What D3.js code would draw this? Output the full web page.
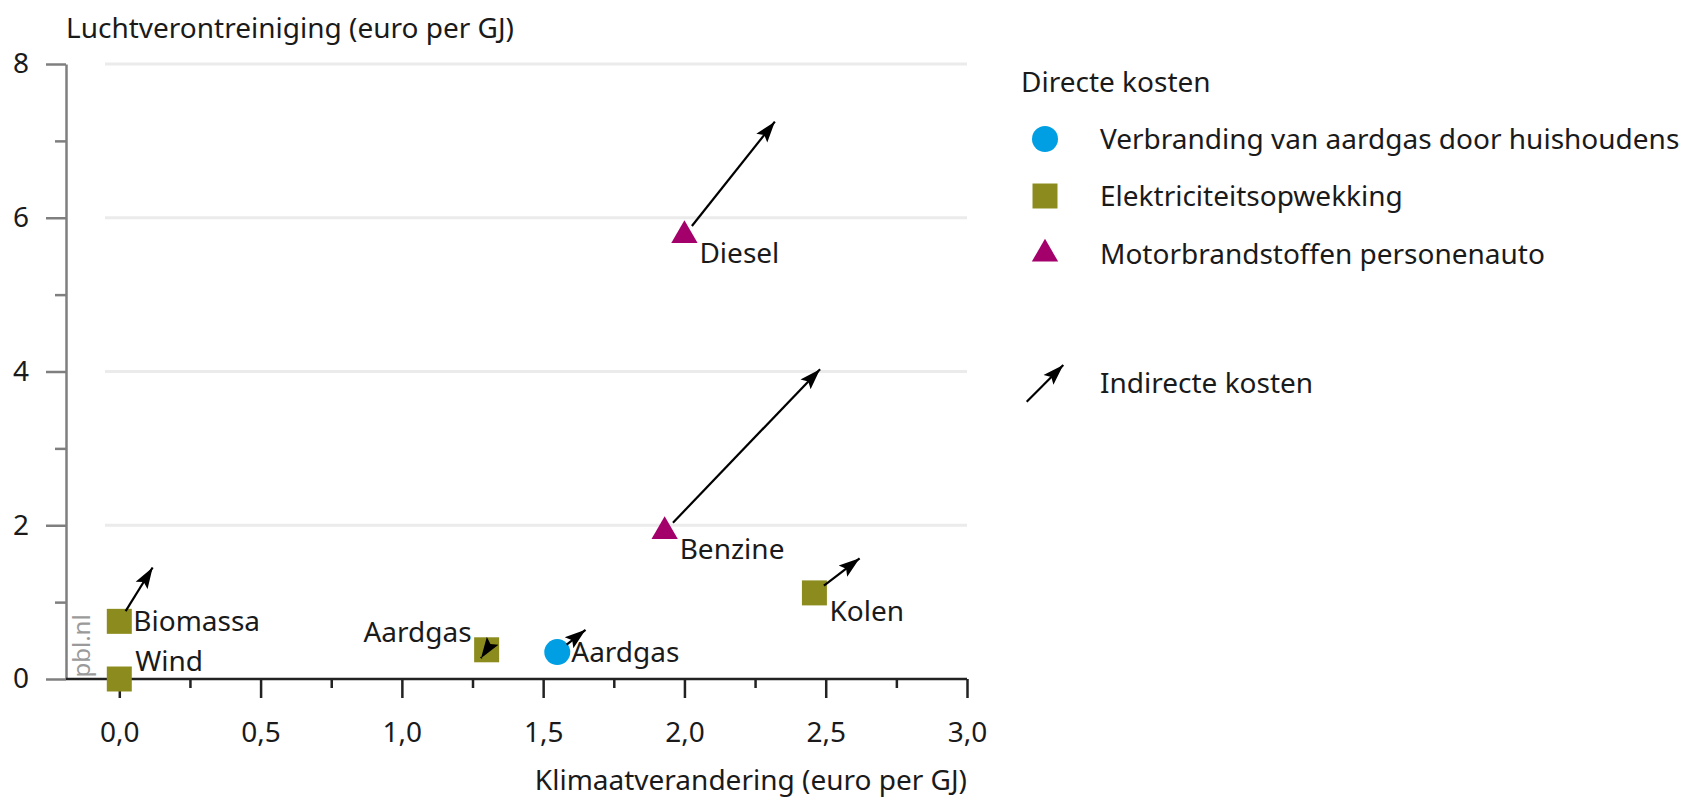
<!DOCTYPE html>
<html>
<head>
<meta charset="utf-8">
<script src="https://cdnjs.cloudflare.com/ajax/libs/d3/7.8.5/d3.min.js"></script>
<style>
  body { margin: 0; background: #fff; }
  text { font-family: "Noto Sans", "Open Sans", sans-serif; fill: #1a1a1a; }
</style>
</head>
<body>
<div class="chart"></div>
<script>
// data (euro per GJ)
var bronnen = ["Wind", "Biomassa", "Aardgas", "Kolen", "Aardgas", "Benzine", "Diesel"];
var groep = [1, 1, 1, 1, 0, 2, 2];
var directX = [0, 0, 1.30, 2.46, 1.55, 1.93, 2.00];
var directY = [0, 0.75, 0.38, 1.12, 0.35, 1.92, 5.77];
var totaalX = [0, 0.118, 1.28, 2.62, 1.65, 2.48, 2.32];
var totaalY = [0, 1.45, 0.27, 1.57, 0.64, 4.03, 7.25];
var labelPlek = ["boven", "rechts", "linksboven", "rechtsonder", "rechts", "rechtsonder", "rechtsonder"];

var legendaNamen = ["Verbranding van aardgas door huishoudens", "Elektriciteitsopwekking", "Motorbrandstoffen personenauto"];
var kleuren = ["#009fe3", "#8c8c1e", "#a3006b"];
var vormen = [d3.symbolCircle, d3.symbolSquare, d3.symbolTriangle];
var vormMaat = [531, 625, 300];

var xTicks = [0, 0.5, 1, 1.5, 2, 2.5, 3];
var xMinor = [0.25, 0.75, 1.25, 1.75, 2.25, 2.75];
var yTicks = [0, 2, 4, 6, 8];
var yMinor = [1, 3, 5, 7];

loadChart();

function loadChart() {
    var svg = d3.select(".chart")
        .append("svg")
        .attr("width", 1698)
        .attr("height", 797);

    var xScale = d3.scaleLinear().domain([0, 3]).range([119.3, 967]);
    var yScale = d3.scaleLinear().domain([0, 8]).range([679, 64]);
    var yAxisX = 66;

    var nl = d3.formatLocale({decimal: ",", thousands: ".", grouping: [3], currency: ["€", ""]});

    var defs = svg.append("defs");
    defs.append("marker")
        .attr("id", "pijl")
        .attr("markerUnits", "userSpaceOnUse")
        .attr("viewBox", "0 -8 21 16")
        .attr("markerWidth", 21)
        .attr("markerHeight", 16)
        .attr("refX", 21)
        .attr("refY", 0)
        .attr("orient", "auto")
        .append("path")
        .attr("d", "M0,-7L21,0L0,7L4,0Z")
        .attr("fill", "#000");

    // gridlines
    svg.append("g").selectAll("line")
        .data(yTicks.filter(d => d > 0))
        .enter().append("line")
        .attr("x1", 105).attr("x2", xScale(3))
        .attr("y1", d => yScale(d)).attr("y2", d => yScale(d))
        .attr("stroke", "#ebebeb")
        .attr("stroke-width", 3);

    // y axis
    var yAxis = svg.append("g")
        .attr("transform", `translate(${yAxisX},0)`)
        .call(d3.axisLeft(yScale).tickValues(yTicks).tickSize(20).tickPadding(17).tickSizeOuter(0));
    svg.append("g")
        .attr("transform", `translate(${yAxisX},0)`)
        .call(d3.axisLeft(yScale).tickValues(yMinor).tickSize(11).tickFormat(""))
        .select(".domain").remove();
    svg.selectAll("g").filter(function () { return this.parentNode === svg.node(); })
        .selectAll(".tick line, .domain")
        .attr("stroke", "#7f7f7f")
        .attr("stroke-width", 2.5);
    yAxis.selectAll(".tick text")
        .attr("font-size", "28px")
        .attr("font-family", "Noto Sans");

    // x axis
    var xAxis = svg.append("g")
        .attr("transform", `translate(0,${yScale(0)})`)
        .call(d3.axisBottom(xScale).tickValues(xTicks).tickSize(19).tickPadding(24).tickSizeOuter(0)
            .tickFormat(nl.format(".1f")));
    var xMinorAxis = svg.append("g")
        .attr("transform", `translate(0,${yScale(0)})`)
        .call(d3.axisBottom(xScale).tickValues(xMinor).tickSize(9).tickFormat(""));
    xAxis.select(".domain").remove();
    xMinorAxis.select(".domain").remove();
    xAxis.selectAll(".tick line").attr("stroke", "#222").attr("stroke-width", 2.5);
    xMinorAxis.selectAll(".tick line").attr("stroke", "#222").attr("stroke-width", 2.5);
    xAxis.selectAll(".tick text")
        .attr("font-size", "28px")
        .attr("font-family", "Noto Sans");
    svg.append("line")
        .attr("x1", yAxisX).attr("x2", xScale(3))
        .attr("y1", yScale(0)).attr("y2", yScale(0))
        .attr("stroke", "#222")
        .attr("stroke-width", 2.5);

    // axis titles
    svg.append("text")
        .attr("x", yAxisX)
        .attr("y", 28)
        .attr("dy", "0.35em")
        .attr("font-size", "28px")
        .text("Luchtverontreiniging (euro per GJ)");

    svg.append("text")
        .attr("x", xScale(3))
        .attr("y", 780)
        .attr("dy", "0.35em")
        .attr("text-anchor", "end")
        .attr("font-size", "28px")
        .text("Klimaatverandering (euro per GJ)");

    svg.append("text")
        .attr("transform", "translate(82,646) rotate(-90)")
        .attr("dy", "0.35em")
        .attr("text-anchor", "middle")
        .attr("font-size", "24px")
        .style("fill", "#9a9a9a")
        .text("pbl.nl");

    var punten = bronnen.map(function (naam, i) {
        return {naam: naam, groep: groep[i], x: directX[i], y: directY[i], tx: totaalX[i], ty: totaalY[i], plek: labelPlek[i]};
    });

    // direct cost markers
    svg.append("g").selectAll("path")
        .data(punten)
        .enter().append("path")
        .attr("transform", d => `translate(${xScale(d.x)},${yScale(d.y)})`)
        .attr("d", d => d3.symbol().type(vormen[d.groep]).size(vormMaat[d.groep])())
        .attr("fill", d => kleuren[d.groep]);

    // indirect cost arrows
    svg.append("g").selectAll("line")
        .data(punten.filter(d => d.tx !== d.x || d.ty !== d.y))
        .enter().append("line")
        .each(function (d) {
            var x0 = xScale(d.x), y0 = yScale(d.y), x1 = xScale(d.tx), y1 = yScale(d.ty);
            var len = Math.hypot(x1 - x0, y1 - y0);
            var off = Math.min(12, len - 1);
            d3.select(this)
                .attr("x1", x0 + (x1 - x0) / len * off)
                .attr("y1", y0 + (y1 - y0) / len * off)
                .attr("x2", x1).attr("y2", y1);
        })
        .attr("stroke", "#000")
        .attr("stroke-width", 2.2)
        .attr("marker-end", "url(#pijl)");

    // labels
    var plekken = {
        rechts: [14, 0, "start"],
        boven: [16, -18, "start"],
        linksboven: [-15, -18, "end"],
        rechtsonder: [15, 18, "start"]
    };
    svg.append("g").selectAll("text")
        .data(punten)
        .enter().append("text")
        .attr("x", d => xScale(d.x) + plekken[d.plek][0])
        .attr("y", d => yScale(d.y) + plekken[d.plek][1])
        .attr("dy", "0.35em")
        .attr("text-anchor", d => plekken[d.plek][2])
        .attr("font-size", "28px")
        .text(d => d.naam);

    // legend
    var legend = svg.append("g");
    legend.append("text")
        .attr("x", 1021).attr("y", 82)
        .attr("dy", "0.35em")
        .attr("font-size", "28px")
        .text("Directe kosten");

    var rijY = [139, 196, 254];
    var rij = legend.selectAll(".rij")
        .data(legendaNamen)
        .enter().append("g")
        .attr("class", "rij")
        .attr("transform", (d, i) => `translate(0,${rijY[i]})`);
    rij.append("path")
        .attr("transform", "translate(1045,0)")
        .attr("d", (d, i) => d3.symbol().type(vormen[i]).size(vormMaat[i])())
        .attr("fill", (d, i) => kleuren[i]);
    rij.append("text")
        .attr("x", 1100)
        .attr("dy", "0.35em")
        .attr("font-size", "28px")
        .text(d => d);

    legend.append("line")
        .attr("x1", 1026.7).attr("y1", 401.7)
        .attr("x2", 1063.3).attr("y2", 365)
        .attr("stroke", "#000")
        .attr("stroke-width", 2.2)
        .attr("marker-end", "url(#pijl)");
    legend.append("text")
        .attr("x", 1100).attr("y", 383)
        .attr("dy", "0.35em")
        .attr("font-size", "28px")
        .text("Indirecte kosten");
}
</script>
</body>
</html>
